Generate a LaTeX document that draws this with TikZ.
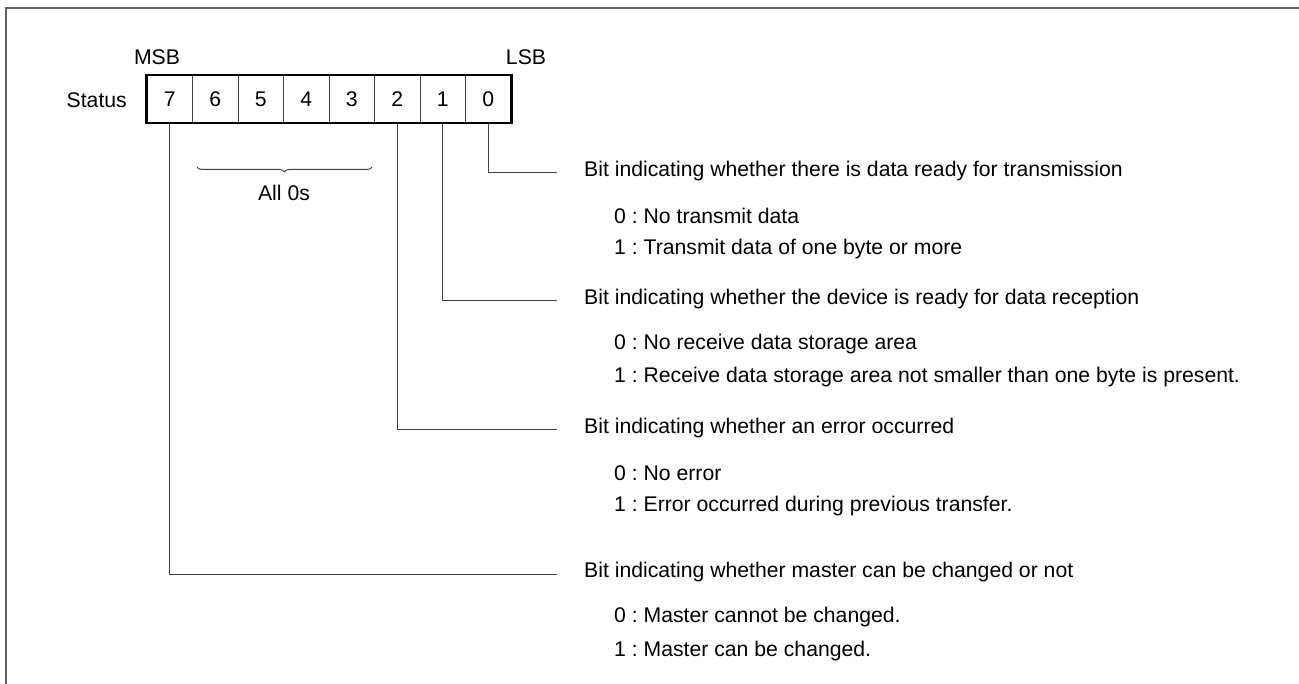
\documentclass[tikz,border=0pt]{standalone}
\usepackage{fontspec}
\setmainfont{Liberation Sans}
\usetikzlibrary{fit,decorations.pathreplacing}
\definecolor{linegray}{HTML}{404040}
\definecolor{framegray}{HTML}{606060}
\tikzset{
  txt/.style={inner sep=0pt, font=\fontsize{21.2}{24}\selectfont\frenchspacing},
  cell/.style={draw=linegray, line width=0.9pt, minimum width=45.5pt, minimum height=47pt, inner sep=0pt, font=\fontsize{21.2}{24}\selectfont},
  lead/.style={draw=linegray, line width=1pt},
}
\begin{document}
\begin{tikzpicture}[x=1pt,y=-1pt]
\useasboundingbox (0,0) rectangle (1299,684);
% open frame
\draw[framegray, line width=2pt] (6,684) -- (6,8.5) -- (1299,8.5);
% register
\foreach \b [count=\i from 0] in {7,6,5,4,3,2,1,0}{
  \node[cell] (c\b) at ({147+22.75+45.5*\i},99) {\b};
}
\node[draw, line width=2.6pt, inner sep=0pt, fit=(c7)(c0)] (reg) {};
\node[txt] (msb) at (157,57) {MSB};
\node[txt] (lsb) at (526,57) {LSB};
\node[txt, anchor=east] (status) at (127,100) {Status};
% brace
\coordinate (bl) at (197,167);
\coordinate (br) at (372,167);
\draw[lead, decorate, decoration={brace, mirror, amplitude=5pt}] (bl) -- (br);
\node[txt] (all0) at (284,193) {All 0s};
% descriptions
\def\tx{584}
\def\ix{614}
\node[txt, anchor=west] (h0) at (\tx,171) {Bit indicating whether there is data ready for transmission};
\node[txt, anchor=west] (a0) at (\ix,216) {0 : No transmit data};
\node[txt, anchor=west] (b0) at (\ix,249) {1 : Transmit data of one byte or more};
\node[txt, anchor=west] (h1) at (\tx,299) {Bit indicating whether the device is ready for data reception};
\node[txt, anchor=west] (a1) at (\ix,344) {0 : No receive data storage area};
\node[txt, anchor=west] (b1) at (\ix,377) {1 : Receive data storage area not smaller than one byte is present.};
\node[txt, anchor=west] (h2) at (\tx,428) {Bit indicating whether an error occurred};
\node[txt, anchor=west] (a2) at (\ix,473) {0 : No error};
\node[txt, anchor=west] (b2) at (\ix,506) {1 : Error occurred during previous transfer.};
\node[txt, anchor=west] (h7) at (\tx,572) {Bit indicating whether master can be changed or not};
\node[txt, anchor=west] (a7) at (\ix,617) {0 : Master cannot be changed.};
\node[txt, anchor=west] (b7) at (\ix,651) {1 : Master can be changed.};
% leaders
\foreach \b in {0,1,2,7}{
  \coordinate (e\b) at ([xshift=-27pt,yshift=-2pt]h\b.west);
  \draw[lead] (c\b.south) |- (e\b);
}
\end{tikzpicture}
\end{document}
